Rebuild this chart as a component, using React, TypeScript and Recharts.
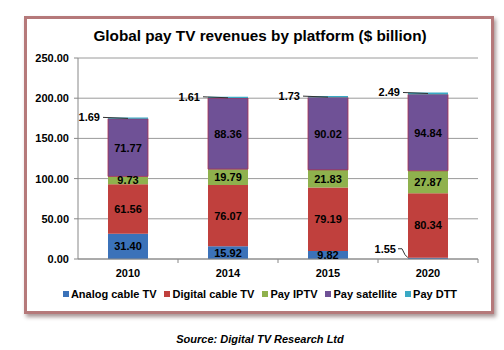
import { BarChart, Bar, XAxis, YAxis, CartesianGrid, LabelList } from "recharts";

const years = ["2010", "2014", "2015", "2020"];
const analogCable = [31.4, 15.92, 9.82, 1.55];
const digitalCable = [61.56, 76.07, 79.19, 80.34];
const payIptv = [9.73, 19.79, 21.83, 27.87];
const paySatellite = [71.77, 88.36, 90.02, 94.84];
const payDtt = [1.69, 1.61, 1.73, 2.49];
const yTicks = [0, 50, 100, 150, 200, 250];

const series = [
  { key: "analog", name: "Analog cable TV", color: "#3b72b9" },
  { key: "digital", name: "Digital cable TV", color: "#c0403d" },
  { key: "iptv", name: "Pay IPTV", color: "#8fb14d" },
  { key: "satellite", name: "Pay satellite", color: "#6f5196" },
  { key: "dtt", name: "Pay DTT", color: "#3aa9c4" },
];

const data = years.map((year, i) => ({
  year,
  analog: analogCable[i],
  digital: digitalCable[i],
  iptv: payIptv[i],
  satellite: paySatellite[i],
  dtt: payDtt[i],
}));

const FONT = "Arial, 'Liberation Sans', Helvetica, sans-serif";

function fmt(v: number) {
  return Number(v).toFixed(2);
}

function InsideLabel(props: any) {
  const { x, y, width, height, value } = props;
  if (height < 4) {
    // too thin, put it on the left with a small hook
    return (
      <g>
        <text x={x - 12} y={y - 5} textAnchor="end" fontSize={11} fontWeight="bold" fill="#000" fontFamily={FONT}>
          {fmt(value)}
        </text>
        <path d={`M ${x - 10} ${y - 9} L ${x - 6} ${y - 9} L ${x - 3} ${y - 3} L ${x} ${y}`} stroke="#333" fill="none" strokeWidth={1} />
      </g>
    );
  }
  return (
    <text x={x + width / 2} y={y + height / 2 + 4} textAnchor="middle" fontSize={11} fontWeight="bold" fill="#000" fontFamily={FONT}>
      {fmt(value)}
    </text>
  );
}

function TopLabel(props: any) {
  const { x, y, width, value } = props;
  return (
    <g>
      <text x={x - 8} y={y + 4} textAnchor="end" fontSize={11} fontWeight="bold" fill="#000" fontFamily={FONT}>
        {fmt(value)}
      </text>
      <line x1={x - 5} y1={y} x2={x + width / 2} y2={y + 1} stroke="#333" strokeWidth={1} />
    </g>
  );
}

function YearTick(props: any) {
  const { x, y, payload } = props;
  const half = payload.offset || 50;
  return (
    <g>
      <line x1={x + half} y1={y - 8} x2={x + half} y2={y - 4} stroke="#888" />
      <text x={x} y={y + 10} textAnchor="middle" fontSize={11} fontWeight="bold" fill="#000" fontFamily={FONT}>
        {payload.value}
      </text>
    </g>
  );
}

export default function App() {
  return (
    <div style={{ position: "absolute", left: 0, top: 0, width: 504, height: 350, background: "#fff", fontFamily: FONT }}>
      <div
        style={{
          position: "absolute",
          left: 24,
          top: 16,
          width: 464,
          height: 292,
          border: "3px solid #b5797a",
          boxShadow: "2px 3px 4px rgba(60,20,20,0.45)",
          background: "#fff",
        }}
      />
      <div style={{ position: "absolute", left: 28, width: 464, top: 27, textAlign: "center", fontSize: 15.3, fontWeight: "bold" }}>
        Global pay TV revenues by platform ($ billion)
      </div>
      <div style={{ position: "absolute", left: 0, top: 0 }}>
        <BarChart width={504} height={350} data={data} margin={{ top: 58, right: 26, bottom: 71, left: 0 }} barSize={40}>
          <CartesianGrid vertical={false} stroke="#9a9a9a" />
          <XAxis
            dataKey="year"
            axisLine={{ stroke: "#888" }}
            tickLine={false}
            tick={<YearTick />}
            height={20}
          />
          <YAxis
            width={78}
            domain={[0, 250]}
            ticks={yTicks}
            tickFormatter={fmt}
            axisLine={{ stroke: "#888" }}
            tickLine={{ stroke: "#888" }}
            tickSize={4}
            tickMargin={5}
            tick={{ fontSize: 11, fontWeight: "bold", fill: "#000", fontFamily: FONT }}
          />
          <Bar dataKey="analog" name="Analog cable TV" stackId="a" fill="#3b72b9" isAnimationActive={false}>
            <LabelList dataKey="analog" content={<InsideLabel />} />
          </Bar>
          <Bar dataKey="digital" name="Digital cable TV" stackId="a" fill="#c0403d" isAnimationActive={false}>
            <LabelList dataKey="digital" content={<InsideLabel />} />
          </Bar>
          <Bar dataKey="iptv" name="Pay IPTV" stackId="a" fill="#8fb14d" isAnimationActive={false}>
            <LabelList dataKey="iptv" content={<InsideLabel />} />
          </Bar>
          <Bar dataKey="satellite" name="Pay satellite" stackId="a" fill="#6f5196" stroke="#a8304f" strokeWidth={0.8} isAnimationActive={false}>
            <LabelList dataKey="satellite" content={<InsideLabel />} />
          </Bar>
          <Bar dataKey="dtt" name="Pay DTT" stackId="a" fill="#3aa9c4" isAnimationActive={false}>
            <LabelList dataKey="dtt" content={<TopLabel />} />
          </Bar>
        </BarChart>
      </div>
      <div
        style={{
          position: "absolute",
          left: 28,
          width: 464,
          top: 288,
          display: "flex",
          justifyContent: "center",
          gap: 8,
          fontSize: 11,
          fontWeight: "bold",
        }}
      >
        {series.map((s) => (
          <div key={s.key} style={{ display: "flex", alignItems: "center", gap: 2 }}>
            <span style={{ width: 6, height: 6, background: s.color, display: "inline-block" }} />
            <span>{s.name}</span>
          </div>
        ))}
      </div>
      <div style={{ position: "absolute", left: 28, width: 464, top: 333, textAlign: "center", fontSize: 11, fontWeight: "bold", fontStyle: "italic" }}>
        Source: Digital TV Research Ltd
      </div>
    </div>
  );
}
